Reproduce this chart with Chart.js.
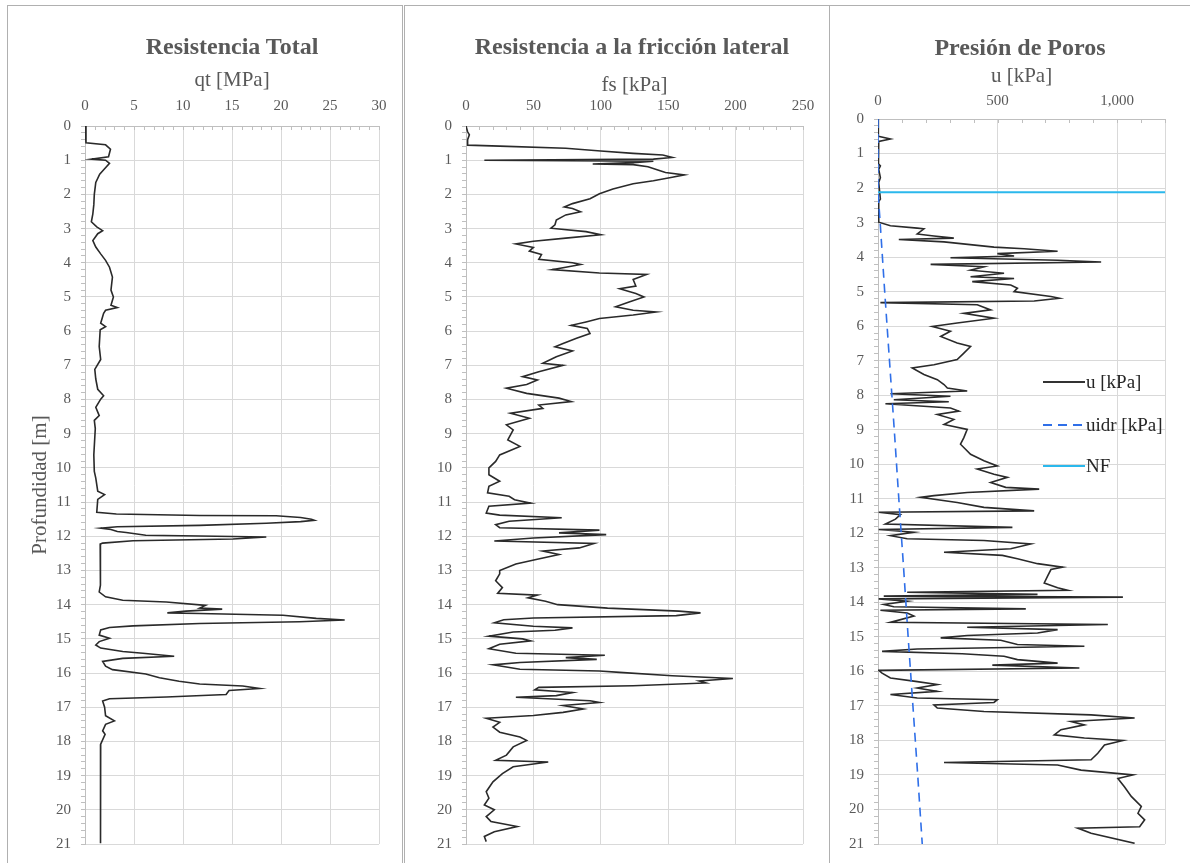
<!DOCTYPE html>
<html>
<head>
<meta charset="utf-8">
<script src="https://cdn.jsdelivr.net/npm/chart.js@4.4.0/dist/chart.umd.min.js"></script>
<style>
  body { margin: 0; width: 1190px; height: 863px; overflow: hidden; background: #fff; position: relative; font-family: "Liberation Serif", serif; }
  .box { position: absolute; top: 5px; height: 900px; border: 1px solid #b0b0b0; box-sizing: border-box; }
  canvas { position: absolute; top: 0; }
  .title { position: absolute; font-weight: bold; font-size: 24px; color: #595959; transform: translate(-50%, -50%); white-space: nowrap; }
  .lgl { position: absolute; left: 1043px; width: 42px; }
  .lgt { position: absolute; left: 1086px; font-size: 19px; color: #262626; transform: translateY(-50%); white-space: nowrap; }
</style>
</head>
<body>
<div class="box" style="left:7px;width:396px"></div>
<div class="box" style="left:404px;width:426px"></div>
<div class="box" style="left:829px;width:400px"></div>

<canvas id="c1" width="395" height="863" style="left:8px"></canvas>
<canvas id="c2" width="424" height="863" style="left:405px"></canvas>
<canvas id="c3" width="359" height="863" style="left:831px"></canvas>

<div class="title" style="left:232px;top:46px">Resistencia Total</div>
<div class="title" style="left:632px;top:46px">Resistencia a la fricción lateral</div>
<div class="title" style="left:1020px;top:47px">Presión de Poros</div>

<div class="lgl" style="top:381px;height:1.5px;background:#333"></div>
<div class="lgt" style="top:382px">u [kPa]</div>
<div class="lgl" style="top:424px;height:1.5px;background:repeating-linear-gradient(to right,#2f6fe8 0 9px,rgba(0,0,0,0) 9px 15px)"></div>
<div class="lgt" style="top:425px">uidr [kPa]</div>
<div class="lgl" style="top:465px;height:2px;background:#2bb8ec"></div>
<div class="lgt" style="top:466px">NF</div>

<script>
// qt [MPa] vs profundidad [m]
const qtDepth = [0, 0.49, 0.55, 0.68, 0.9, 0.97, 1.0, 1.09, 1.25, 1.41, 1.65, 2.0, 2.3, 2.57, 2.8, 2.95, 3.06, 3.15, 3.35, 3.54, 3.74, 3.93, 4.13, 4.42, 4.8, 5.0, 5.24, 5.31, 5.39, 5.48, 5.77, 5.87, 5.96, 6.45, 6.83, 7.12, 7.4, 7.7, 7.89, 7.99, 8.23, 8.47, 8.61, 8.85, 9.62, 10.1, 10.3, 10.68, 10.78, 10.92, 11.3, 11.35, 11.39, 11.4, 11.45, 11.5, 11.53, 11.57, 11.62, 11.68, 11.72, 11.76, 11.8, 11.86, 11.89, 11.97, 11.99, 12.02, 12.08, 12.13, 12.2, 12.23, 13.0, 13.43, 13.63, 13.77, 13.87, 13.92, 14.02, 14.1, 14.13, 14.19, 14.24, 14.26, 14.31, 14.4, 14.45, 14.5, 14.55, 14.62, 14.67, 14.74, 14.89, 14.98, 15.08, 15.18, 15.27, 15.37, 15.42, 15.51, 15.57, 15.66, 15.8, 15.9, 16.03, 16.14, 16.24, 16.32, 16.38, 16.45, 16.51, 16.63, 16.7, 16.75, 16.82, 17.0, 17.25, 17.4, 17.5, 17.69, 17.79, 18.08, 18.75, 19.72, 20.98];
const qtValue = [0, 0.1, 2.1, 2.6, 2.4, 0.7, 2.1, 2.5, 2.0, 1.5, 1.1, 0.95, 0.9, 0.8, 0.65, 1.2, 1.8, 1.3, 0.8, 1.1, 1.6, 2.1, 2.5, 2.8, 2.65, 2.9, 2.65, 3.3, 2.1, 1.9, 1.6, 2.1, 1.55, 1.45, 1.6, 1.0, 1.1, 1.3, 1.9, 1.6, 1.1, 1.45, 0.95, 1.05, 0.9, 0.95, 1.1, 1.3, 2.0, 1.3, 1.2, 3.2, 11.7, 19.5, 22.0, 23.1, 23.4, 22.0, 18.5, 11.7, 3.3, 1.6, 2.65, 3.3, 4.2, 6.2, 11.7, 18.5, 15.1, 4.9, 1.8, 1.55, 1.6, 1.55, 1.45, 2.1, 3.85, 8.3, 12.3, 11.7, 14.0, 10.3, 8.4, 11.7, 20.2, 23.6, 26.5, 21.9, 11.7, 4.9, 2.5, 1.6, 1.45, 2.5, 1.45, 1.1, 1.6, 3.85, 5.9, 9.1, 3.85, 1.8, 2.1, 2.8, 6.2, 7.6, 9.6, 11.7, 16.1, 17.8, 14.7, 14.4, 8.3, 2.5, 1.8, 2.0, 2.1, 3.0, 2.1, 1.8, 2.05, 1.6, 1.55, 1.6, 1.6];

// fs [kPa] vs profundidad [m]
const fsDepth = [0, 0.17, 0.26, 0.4, 0.56, 0.59, 0.65, 0.73, 0.8, 0.85, 0.92, 0.97, 1.0, 1.03, 1.07, 1.11, 1.13, 1.19, 1.31, 1.36, 1.43, 1.5, 1.6, 1.69, 1.84, 1.98, 2.13, 2.27, 2.37, 2.41, 2.51, 2.6, 2.75, 2.89, 2.99, 3.09, 3.18, 3.28, 3.37, 3.45, 3.55, 3.66, 3.76, 3.9, 4.0, 4.05, 4.13, 4.2, 4.3, 4.34, 4.49, 4.68, 4.76, 4.9, 5.0, 5.15, 5.29, 5.39, 5.44, 5.53, 5.63, 5.73, 5.83, 5.92, 6.07, 6.21, 6.36, 6.46, 6.58, 6.75, 6.94, 7.0, 7.19, 7.33, 7.43, 7.56, 7.67, 7.82, 7.96, 8.06, 8.16, 8.26, 8.4, 8.55, 8.74, 8.89, 9.18, 9.37, 9.62, 9.81, 10.0, 10.2, 10.39, 10.54, 10.73, 10.83, 10.93, 11.03, 11.12, 11.32, 11.38, 11.46, 11.56, 11.66, 11.75, 11.82, 11.9, 11.95, 12.05, 12.14, 12.21, 12.34, 12.43, 12.53, 12.68, 12.81, 13.0, 13.1, 13.3, 13.5, 13.67, 13.72, 13.8, 13.9, 14.0, 14.1, 14.19, 14.24, 14.32, 14.39, 14.44, 14.53, 14.63, 14.68, 14.75, 14.8, 14.92, 15.0, 15.06, 15.16, 15.29, 15.42, 15.48, 15.55, 15.6, 15.69, 15.76, 15.89, 15.94, 15.98, 16.08, 16.16, 16.23, 16.29, 16.37, 16.42, 16.49, 16.57, 16.66, 16.71, 16.81, 16.86, 16.95, 17.05, 17.15, 17.24, 17.32, 17.44, 17.58, 17.73, 17.87, 17.97, 18.16, 18.4, 18.55, 18.6, 18.74, 18.94, 19.18, 19.47, 19.66, 19.86, 20.0, 20.2, 20.34, 20.49, 20.64, 20.78, 20.93];
const fsValue = [0, 1.2, 2.5, 1.2, 1.2, 25, 74, 100, 124, 146, 153, 139, 13.6, 139, 124, 94, 124, 135, 144, 148, 162, 153, 139, 124, 109, 99, 92, 79, 73, 79, 85, 74, 67, 66, 63, 89, 100, 74, 50, 37, 50, 47, 56, 54, 79, 85, 74, 64, 99, 134, 124, 126, 114, 126, 132, 121, 111, 124, 141, 124, 99, 89, 78, 90, 92, 82, 72, 66, 79, 67, 57, 72, 54, 42, 53, 45, 30, 45, 69, 78, 54, 57, 33, 47, 30, 35, 31, 40, 25, 22, 17, 17, 25, 17, 16, 32, 36, 48, 17, 15, 25, 71, 32, 22, 25, 99, 69, 104, 50, 21, 95, 84, 57, 69, 52, 37, 25, 25, 22, 27, 23.5, 53, 46, 59, 68, 105, 158, 174, 156, 50, 28, 21, 50, 79, 66, 35, 17, 42, 48, 25, 17, 37, 103, 74, 97, 40, 20, 40, 99, 114, 153, 198, 173, 178, 124, 54, 51, 79, 67, 37, 92, 99, 72, 87, 72, 50, 15, 25, 20, 25, 40, 45, 35, 30, 22, 61, 35, 27, 20, 15, 17, 13.6, 21, 15, 18.5, 38, 21, 13.6, 15];

// u [kPa] vs profundidad [m]
const uDepth = [0, 0.4, 0.5, 0.58, 0.65, 1.3, 1.36, 1.46, 1.7, 1.84, 2.32, 2.42, 2.99, 3.09, 3.16, 3.18, 3.33, 3.39, 3.45, 3.49, 3.56, 3.71, 3.76, 3.83, 3.9, 3.97, 4.02, 4.09, 4.14, 4.21, 4.28, 4.38, 4.47, 4.57, 4.62, 4.71, 4.81, 4.9, 5.0, 5.14, 5.19, 5.27, 5.32, 5.38, 5.53, 5.63, 5.77, 5.91, 6.01, 6.15, 6.3, 6.49, 6.59, 6.78, 6.97, 7.12, 7.21, 7.4, 7.55, 7.69, 7.79, 7.88, 7.96, 8.03, 8.13, 8.19, 8.25, 8.37, 8.46, 8.56, 8.7, 8.85, 8.99, 9.23, 9.42, 9.71, 9.9, 10.05, 10.14, 10.29, 10.38, 10.53, 10.67, 10.72, 10.82, 10.91, 10.96, 11.11, 11.25, 11.35, 11.39, 11.46, 11.59, 11.73, 11.83, 11.89, 11.97, 12.07, 12.16, 12.21, 12.31, 12.45, 12.55, 12.64, 12.74, 12.88, 12.98, 13.05, 13.24, 13.44, 13.58, 13.65, 13.71, 13.77, 13.82, 13.85, 13.9, 13.97, 14.06, 14.13, 14.19, 14.23, 14.31, 14.4, 14.58, 14.64, 14.72, 14.79, 14.89, 14.96, 15.03, 15.1, 15.22, 15.27, 15.35, 15.42, 15.49, 15.56, 15.66, 15.76, 15.82, 15.9, 15.97, 16.05, 16.19, 16.29, 16.38, 16.48, 16.58, 16.67, 16.77, 16.82, 16.9, 16.97, 17.06, 17.16, 17.26, 17.35, 17.45, 17.55, 17.69, 17.84, 17.93, 18.0, 18.13, 18.37, 18.56, 18.64, 18.71, 18.86, 19.0, 19.1, 19.35, 19.62, 19.91, 20.11, 20.3, 20.5, 20.54, 20.69, 20.98];
const uValue = [0, 0, 3, 52, 3, 2, 10, 3, 10, 3, 10, 0, 3, 52, 164, 192, 164, 234, 317, 87, 276, 485, 611, 751, 499, 569, 303, 751, 933, 220, 443, 387, 527, 387, 569, 394, 555, 583, 569, 723, 758, 653, 10, 415, 471, 359, 485, 331, 227, 303, 262, 331, 387, 359, 331, 234, 143, 192, 248, 276, 290, 373, 52, 303, 66, 296, 31, 303, 338, 248, 317, 276, 373, 359, 345, 387, 443, 499, 415, 485, 541, 471, 534, 674, 373, 234, 178, 331, 443, 653, 3, 94, 73, 31, 562, 3, 150, 52, 122, 443, 639, 555, 276, 520, 583, 667, 772, 723, 709, 695, 751, 793, 122, 667, 24, 1024, 3, 122, 24, 66, 618, 10, 122, 150, 52, 961, 373, 751, 667, 373, 262, 513, 583, 863, 164, 17, 352, 527, 583, 751, 478, 842, 3, 17, 52, 157, 248, 164, 248, 52, 164, 499, 485, 234, 248, 443, 891, 1073, 807, 863, 765, 737, 863, 1024, 947, 919, 891, 276, 751, 849, 1066, 1003, 1031, 1059, 1101, 1087, 1115, 1094, 835, 891, 1073];

// uidr [kPa] (hidrostática) y NF
const uidrDepth = [0, 2.1, 3, 5, 7, 9, 11, 13, 15, 17, 19, 21];
const uidrValue = [0, 0, 9, 28, 48, 68, 87, 107, 126, 146, 166, 185];
const nfDepth = [2.12, 2.12];
const nfValue = [0, 1200];

const serif = '"Liberation Serif", "Times New Roman", serif';
const gray = '#595959';
const gridGray = '#d9d9d9';
const frameGray = '#bfbfbf';
const none = 'rgba(0,0,0,0)';

function pts(depth, value) {
    return depth.map((d, i) => ({ x: value[i], y: d }));
}

function onStep(v, s) {
    return Math.abs(v / s - Math.round(v / s)) < 1e-6;
}

function line(label, depth, value, color, width, dash, order) {
    return {
        label: label,
        data: pts(depth, value),
        showLine: true,
        borderColor: color,
        borderWidth: width,
        borderDash: dash || [],
        pointRadius: 0,
        tension: 0,
        order: order || 0
    };
}

// marcas menores del eje x, hacia dentro del área
const innerTicks = {
    id: 'innerTicks',
    beforeDatasetsDraw(chart) {
        const s = chart.scales.x;
        const ctx = chart.ctx;
        const top = chart.chartArea.top;
        ctx.save();
        ctx.strokeStyle = frameGray;
        ctx.lineWidth = 1;
        s.ticks.forEach(t => {
            const px = Math.round(s.getPixelForValue(t.value)) + 0.5;
            ctx.beginPath();
            ctx.moveTo(px, top);
            ctx.lineTo(px, top + 4);
            ctx.stroke();
        });
        ctx.restore();
    }
};

function profile(id, o) {
    return new Chart(document.getElementById(id), {
        type: 'scatter',
        data: { datasets: o.datasets },
        plugins: [innerTicks],
        options: {
            responsive: false,
            animation: false,
            events: [],
            layout: { padding: { top: o.padTop, right: o.padRight, bottom: 16, left: 0 } },
            plugins: { legend: { display: false }, tooltip: { enabled: false } },
            scales: {
                x: {
                    type: 'linear',
                    position: 'top',
                    min: 0,
                    max: o.xMax,
                    afterFit: s => { s.height = o.xH; },
                    border: { color: frameGray },
                    grid: {
                        color: c => (onStep(c.tick.value, o.xMajor) || c.tick.value === o.xMax) ? gridGray : none,
                        tickColor: none,
                        tickLength: 4
                    },
                    ticks: {
                        stepSize: o.xMinor,
                        autoSkip: false,
                        maxRotation: 0,
                        padding: o.xTickPad,
                        color: gray,
                        font: { family: serif, size: 15 },
                        callback: v => onStep(v, o.xMajor) ? v.toLocaleString('en-US') : ''
                    },
                    title: {
                        display: true,
                        text: o.xTitle,
                        color: gray,
                        font: { family: serif, size: 21 },
                        padding: { top: o.xTitlePad, bottom: 0 }
                    }
                },
                y: {
                    type: 'linear',
                    reverse: true,
                    min: 0,
                    max: 21,
                    afterFit: s => { s.width = o.yW; },
                    border: { color: frameGray },
                    grid: {
                        color: c => onStep(c.tick.value, 1) ? gridGray : none,
                        tickColor: frameGray,
                        tickLength: 4
                    },
                    ticks: {
                        stepSize: 0.2,
                        autoSkip: false,
                        padding: 10,
                        color: gray,
                        font: { family: serif, size: 15 },
                        callback: v => onStep(v, 1) ? Math.round(v) : ''
                    },
                    title: {
                        display: !!o.yTitle,
                        text: o.yTitle || '',
                        color: gray,
                        font: { family: serif, size: 21 },
                        padding: { top: 20, bottom: 0 }
                    }
                }
            }
        }
    });
}

profile('c1', {
    datasets: [line('qt [MPa]', qtDepth, qtValue, '#2a2a2a', 1.6)],
    xMax: 30, xMajor: 5, xMinor: 1, xTitle: 'qt [MPa]', yTitle: 'Profundidad [m]',
    padTop: 50, xH: 76, xTitlePad: 18, xTickPad: 7, yW: 77, padRight: 24
});

profile('c2', {
    datasets: [line('fs [kPa]', fsDepth, fsValue, '#2a2a2a', 1.6)],
    xMax: 250, xMajor: 50, xMinor: 10, xTitle: 'fs [kPa]',
    padTop: 50, xH: 76, xTitlePad: 23, xTickPad: 7, yW: 61, padRight: 26
});

profile('c3', {
    datasets: [
        line('u [kPa]', uDepth, uValue, '#2a2a2a', 1.6, null, 2),
        line('uidr [kPa]', uidrDepth, uidrValue, '#2f6fe8', 1.6, [9, 6], 1),
        line('NF', nfDepth, nfValue, '#2bb8ec', 2, null, 0)
    ],
    xMax: 1200, xMajor: 500, xMinor: 100, xTitle: 'u [kPa]',
    padTop: 45, xH: 74, xTitlePad: 19, xTickPad: 5, yW: 47, padRight: 25
});
</script>
</body>
</html>
